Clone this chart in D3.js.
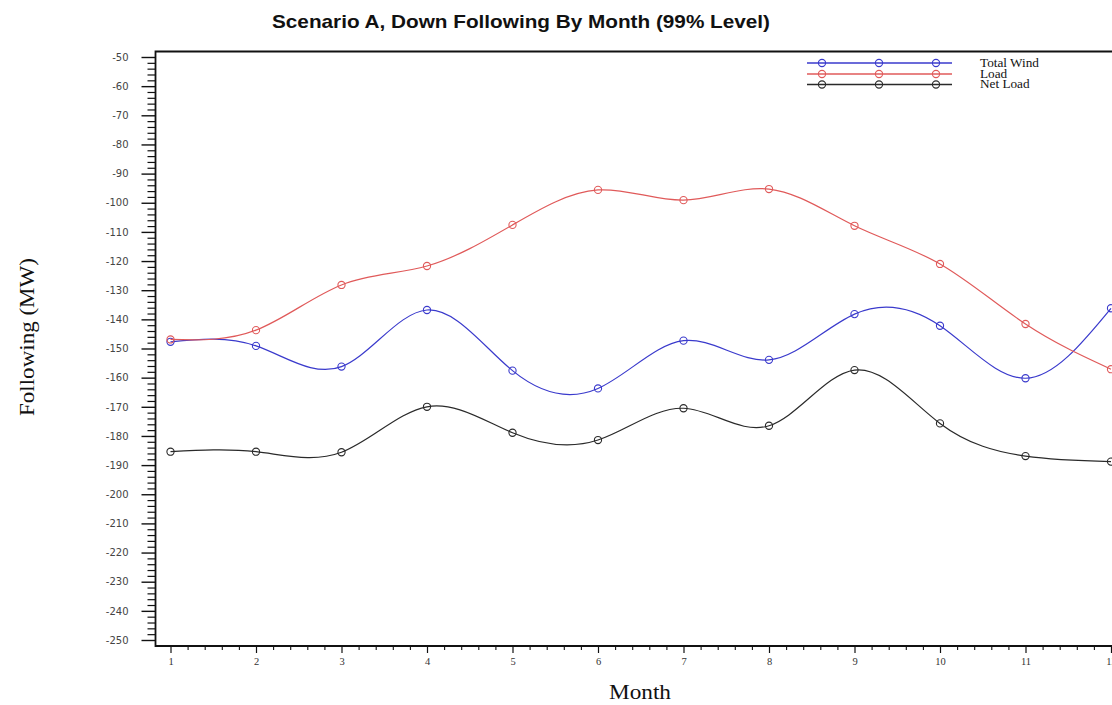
<!DOCTYPE html>
<html>
<head>
<meta charset="utf-8">
<script src="https://cdn.jsdelivr.net/npm/d3@7"></script>
<style>
  html, body { margin: 0; padding: 0; background: #fff; }
  svg { display: block; }
</style>
</head>
<body>
<svg id="chart" width="1112" height="705"></svg>
<script>
const months = [1, 2, 3, 4, 5, 6, 7, 8, 9, 10, 11, 12];
const totalWind = [-147.7, -149.1, -156.2, -136.8, -157.6, -163.7, -147.3, -153.9, -138.2, -142.2, -160.2, -136.2];
const load = [-146.9, -143.7, -128.2, -121.7, -107.6, -95.6, -99.1, -95.3, -107.9, -121.0, -141.6, -157.1];
const netLoad = [-185.4, -185.4, -185.6, -170.0, -178.9, -181.4, -170.5, -176.5, -157.4, -175.7, -186.9, -188.8];
const seriesNames = ["Total Wind", "Load", "Net Load"];
const yTicks = d3.range(-50, -251, -10);
const xTicks = months;
const titleText = "Scenario A, Down Following By Month (99% Level)";
const xTitle = "Month";
const yTitle = "Following (MW)";

const colors = ["#3a3acc", "#e05a5a", "#2a2a2a"];
const seriesData = [totalWind, load, netLoad];

const svg = d3.select("#chart");
const x = d3.scaleLinear().domain([1, 12]).range([170.5, 1111]);
const y = d3.scaleLinear().domain([-50, -250]).range([57, 640]);

const pLeft = 155.5, pTop = 51.5, pBottom = 646;
const pRight = x(12.2);

// clip
svg.append("defs").append("clipPath").attr("id", "clip")
  .append("rect").attr("x", pLeft).attr("y", pTop).attr("width", pRight - pLeft).attr("height", pBottom - pTop);

// Title
svg.append("text")
  .attr("x", 521).attr("y", 28)
  .attr("text-anchor", "middle")
  .attr("font-family", "Liberation Sans, Arial, sans-serif")
  .attr("font-weight", "bold")
  .attr("font-size", 18.5)
  .attr("fill", "#111")
  .attr("textLength", 498).attr("lengthAdjust", "spacingAndGlyphs")
  .text(titleText);

// Y axis major
const yAxisMajor = svg.append("g").attr("transform", `translate(${pLeft},0)`)
  .call(d3.axisLeft(y).tickValues(yTicks).tickSize(14).tickPadding(13).tickFormat(d => String(d)));
yAxisMajor.select(".domain").remove();
yAxisMajor.selectAll(".tick line").attr("stroke", "#111").attr("stroke-width", 1.4);
yAxisMajor.selectAll(".tick text")
  .attr("font-family", "DejaVu Sans, Tahoma, sans-serif")
  .attr("font-size", 10).attr("fill", "#444");

// Y axis minor
const yMinor = d3.range(-50, -251, -2).filter(v => v % 10 !== 0);
const yAxisMinor = svg.append("g").attr("transform", `translate(${pLeft},0)`)
  .call(d3.axisLeft(y).tickValues(yMinor).tickSize(8).tickFormat(""));
yAxisMinor.select(".domain").remove();
yAxisMinor.selectAll(".tick line").attr("stroke", "#111").attr("stroke-width", 1.2);

// X axis major
const xAxisMajor = svg.append("g").attr("transform", `translate(0,${pBottom})`)
  .call(d3.axisBottom(x).tickValues(xTicks).tickSize(7).tickPadding(5).tickFormat(d => String(d)));
xAxisMajor.select(".domain").remove();
xAxisMajor.selectAll(".tick line").attr("stroke", "#111").attr("stroke-width", 1.2);
xAxisMajor.selectAll(".tick text")
  .attr("font-family", "Liberation Serif, Times New Roman, serif")
  .attr("font-size", 10.5).attr("fill", "#333");

// X axis minor
const xMinor = d3.range(1, 12.21, 0.2).filter(v => Math.abs(v - Math.round(v)) > 0.01);
const xAxisMinor = svg.append("g").attr("transform", `translate(0,${pBottom})`)
  .call(d3.axisBottom(x).tickValues(xMinor).tickSize(4).tickFormat(""));
xAxisMinor.select(".domain").remove();
xAxisMinor.selectAll(".tick line").attr("stroke", "#111").attr("stroke-width", 1.1);

// Frame
svg.append("path")
  .attr("d", `M${pRight},${pTop}H${pLeft}V${pBottom}H${pRight}`)
  .attr("fill", "none").attr("stroke", "#111").attr("stroke-width", 1.8);

// Series
const plot = svg.append("g").attr("clip-path", "url(#clip)");
const line = d3.line().x((d, i) => x(months[i])).y(d => y(d)).curve(d3.curveNatural);
seriesData.forEach((vals, si) => {
  plot.append("path").datum(vals)
    .attr("d", line)
    .attr("fill", "none")
    .attr("stroke", colors[si])
    .attr("stroke-width", 1.2);
  plot.selectAll(null).data(vals).enter().append("circle")
    .attr("cx", (d, i) => x(months[i]))
    .attr("cy", d => y(d))
    .attr("r", 3.6)
    .attr("fill", "none")
    .attr("stroke", colors[si])
    .attr("stroke-width", 1.1);
});

// Legend
const legendYs = [63, 74, 84.5];
const legendMarkX = [822, 879, 936];
seriesNames.forEach((name, si) => {
  const g = svg.append("g");
  g.append("line").attr("x1", 807).attr("x2", 952)
    .attr("y1", legendYs[si]).attr("y2", legendYs[si])
    .attr("stroke", colors[si]).attr("stroke-width", 1.3);
  legendMarkX.forEach(mx => {
    g.append("circle").attr("cx", mx).attr("cy", legendYs[si]).attr("r", 3.6)
      .attr("fill", "none").attr("stroke", colors[si]).attr("stroke-width", 1.1);
  });
  const t = g.append("text").attr("x", 980).attr("y", legendYs[si] + 3.5)
    .attr("font-family", "Liberation Serif, Times New Roman, serif")
    .attr("font-size", 11.5).attr("fill", "#111")
    .text(name);
  const w = t.node().getComputedTextLength();
  t.attr("textLength", w * 1.15).attr("lengthAdjust", "spacingAndGlyphs");
});

// Axis titles
svg.append("text")
  .attr("x", 640).attr("y", 699)
  .attr("text-anchor", "middle")
  .attr("font-family", "Liberation Serif, Times New Roman, serif")
  .attr("font-size", 20).attr("fill", "#111")
  .attr("textLength", 62).attr("lengthAdjust", "spacingAndGlyphs")
  .text(xTitle);

svg.append("text")
  .attr("transform", "translate(34,337) rotate(-90)")
  .attr("text-anchor", "middle")
  .attr("font-family", "Liberation Serif, Times New Roman, serif")
  .attr("font-size", 20).attr("fill", "#111")
  .attr("textLength", 158).attr("lengthAdjust", "spacingAndGlyphs")
  .text(yTitle);
</script>
</body>
</html>
